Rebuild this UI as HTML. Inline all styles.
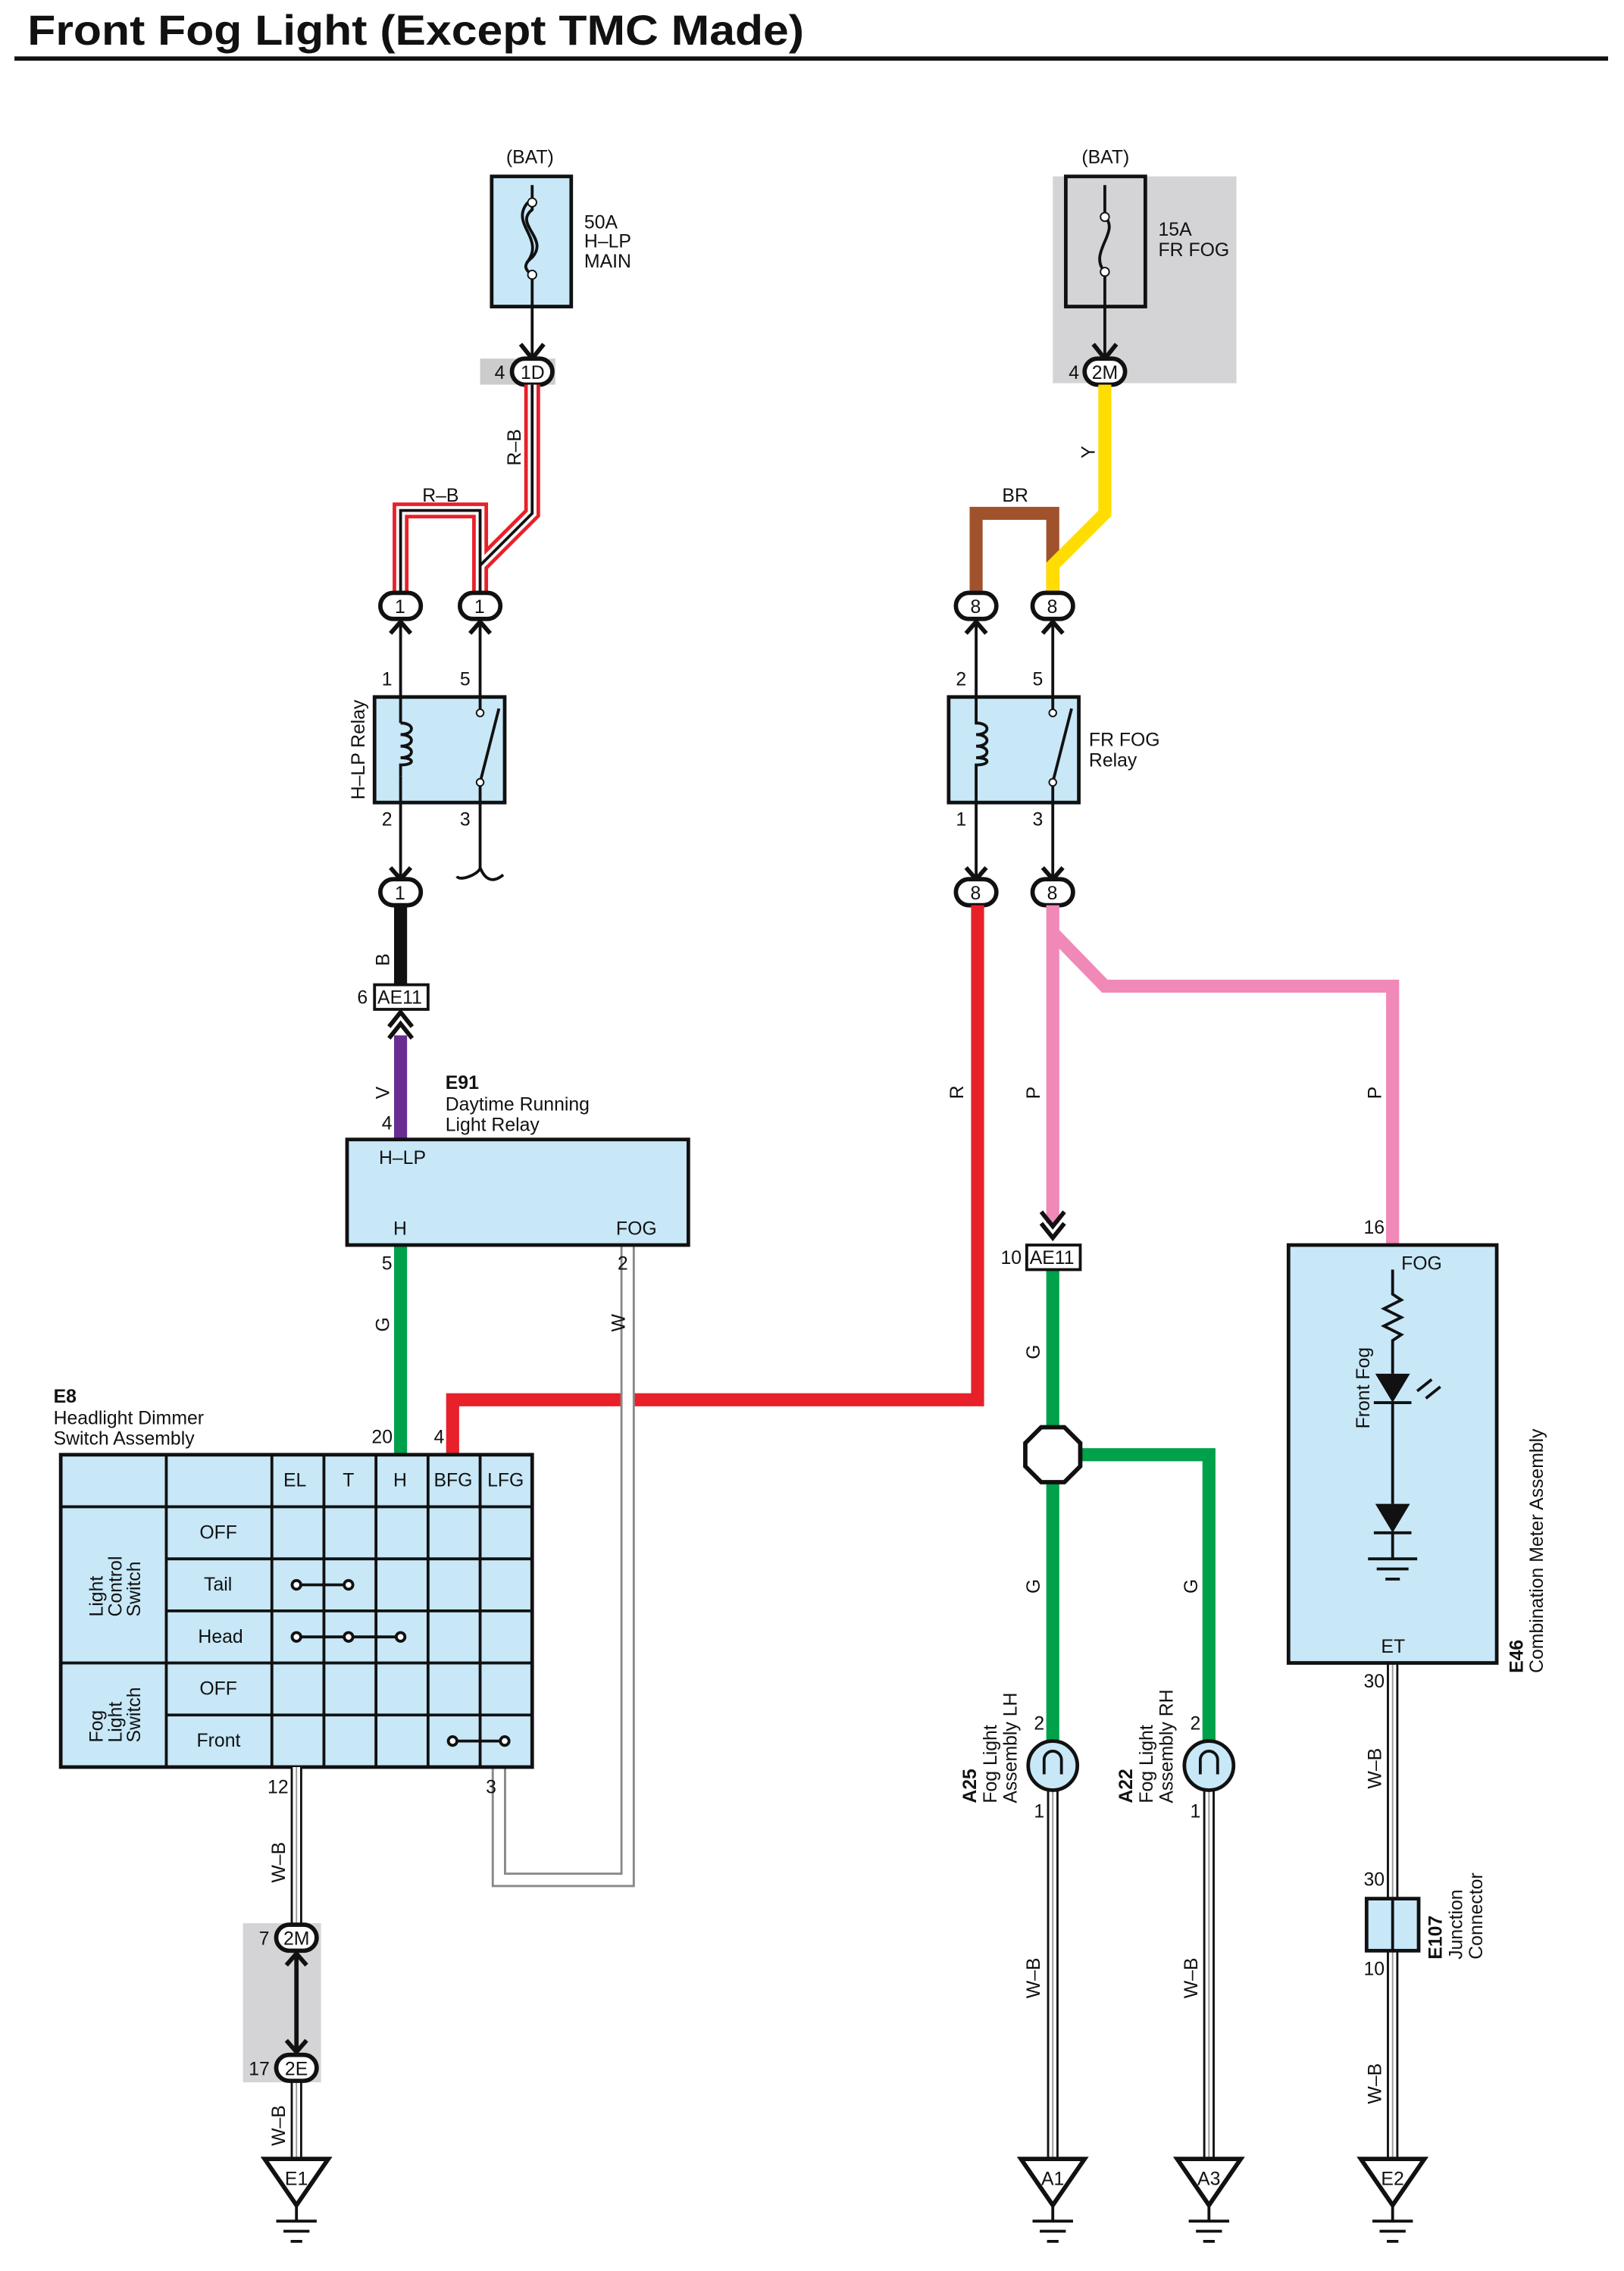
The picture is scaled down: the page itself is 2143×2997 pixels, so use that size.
<!DOCTYPE html>
<html><head><meta charset="utf-8"><style>
html,body{margin:0;padding:0;background:#fff}
svg{display:block}
text{font-family:"Liberation Sans",sans-serif;font-size:13px;fill:#111}
.b{font-weight:bold}
.box{fill:#c8e8f8;stroke:#111;stroke-width:2.5}
.ln{stroke:#111;stroke-width:2;fill:none}
.con{fill:#fff;stroke:#111;stroke-width:3}
</style></head><body>
<svg width="2143" height="2997" viewBox="0 0 1123 1570.5" preserveAspectRatio="none">
<text x="19" y="31" class="b" style="font-size:29px" textLength="537" lengthAdjust="spacingAndGlyphs">Front Fog Light (Except TMC Made)</text>
<rect x="10" y="39" width="1102" height="3" fill="#111"/>

<!-- Left fuse -->
<text x="350" y="113">(BAT)</text>
<rect class="box" x="340" y="122" width="55" height="90"/>
<path class="ln" d="M368 128 V145 C355 155,380 165,368 178 C358 186,368 188,368 192 V212" stroke-width="2"/>
<path class="ln" d="M365 140 C352 155,378 165,364 182"/>
<circle cx="368" cy="140" r="3" fill="#fff" stroke="#111"/><circle cx="368" cy="190" r="3" fill="#fff" stroke="#111"/>
<text x="404" y="158">50A</text><text x="404" y="171">H–LP</text><text x="404" y="185">MAIN</text>
<rect x="332" y="248" width="52" height="18" fill="#ccc"/>
<path class="ln" d="M368 212 V248"/><path d="M360 238 L368 248 L376 238" stroke="#111" stroke-width="3" fill="none"/>
<rect class="con" x="354" y="248" width="28" height="18" rx="9"/><text x="360" y="262">1D</text><text x="342" y="262">4</text>

<!-- Right fuse -->
<rect x="728" y="122" width="127" height="143" fill="#d4d4d6"/>
<text x="748" y="113">(BAT)</text>
<rect x="737" y="122" width="55" height="90" fill="none" stroke="#111" stroke-width="2.5"/>
<path class="ln" d="M764 128 V150 C775 160,752 175,764 188 V212"/>
<circle cx="764" cy="150" r="3" fill="#fff" stroke="#111"/><circle cx="764" cy="188" r="3" fill="#fff" stroke="#111"/>
<text x="801" y="163">15A</text><text x="801" y="177">FR FOG</text>
<path class="ln" d="M764 212 V248"/><path d="M756 238 L764 248 L772 238" stroke="#111" stroke-width="3" fill="none"/>
<rect class="con" x="750" y="248" width="28" height="18" rx="9"/><text x="755" y="262">2M</text><text x="739" y="262">4</text>

<!-- R-B wire -->
<g fill="none" stroke-linejoin="miter">
<path d="M277 410 V353 H332 V410 M368 266 V355 L332 391 V410" stroke="#e8202a" stroke-width="11"/>
<path d="M277 410 V353 H332 V410 M368 266 V355 L332 391 V410" stroke="#fff" stroke-width="6"/>
<path d="M277 410 V353 H332 V410 M368 266 V355 L332 391 V410" stroke="#111" stroke-width="2"/>
<path d="M675 410 V355 H728 V410" stroke="#a0522d" stroke-width="9"/>
<path d="M764 266 V355 L728 391 V410" stroke="#ffdd00" stroke-width="9"/>
</g>
<text x="292" y="347">R–B</text>
<text transform="translate(360,322) rotate(-90)">R–B</text>
<text x="693" y="347">BR</text>
<text transform="translate(757,317) rotate(-90)">Y</text>

<g>
<rect class="con" x="263" y="410" width="28" height="18" rx="9"/><text x="273" y="424">1</text>
<rect class="con" x="318" y="410" width="28" height="18" rx="9"/><text x="328" y="424">1</text>
<rect class="con" x="661" y="410" width="28" height="18" rx="9"/><text x="671" y="424">8</text>
<rect class="con" x="714" y="410" width="28" height="18" rx="9"/><text x="724" y="424">8</text>
</g>
<g class="ln">
<path d="M277 428 V482 M332 428 V482 M675 428 V482 M728 428 V482"/>
</g>
<g fill="none" stroke="#111" stroke-width="3">
<path d="M270 438 L277 430 L284 438 M325 438 L332 430 L339 438 M668 438 L675 430 L682 438 M721 438 L728 430 L735 438"/>
</g>

<!-- H-LP relay -->
<text x="264" y="474">1</text><text x="318" y="474">5</text>
<rect class="box" x="259" y="482" width="90" height="73"/>
<path class="ln" d="M277 482 V500 M277 537 V555"/>
<path class="ln" d="M277 500 c10 0,10 8,0 8 c10 0,10 8,0 8 c10 0,10 8,0 8 c10 0,10 5,0 5 V537" />
<path class="ln" d="M332 482 V493 M332 541 V555 M332 541 L345 490"/>
<circle cx="332" cy="493" r="2.5" fill="#fff" stroke="#111"/><circle cx="332" cy="541" r="2.5" fill="#fff" stroke="#111"/>
<text transform="translate(252,553) rotate(-90)">H–LP Relay</text>
<text x="264" y="571">2</text><text x="318" y="571">3</text>
<path class="ln" d="M277 555 V608 M332 555 V600 c0 4,-14 10,-16 6 M332 600 c4 10,10 10,16 5"/>
<path d="M270 600 L277 608 L284 600" stroke="#111" stroke-width="3" fill="none"/>
<rect class="con" x="263" y="608" width="28" height="18" rx="9"/><text x="273" y="622">1</text>

<!-- FR FOG relay -->
<text x="661" y="474">2</text><text x="714" y="474">5</text>
<rect class="box" x="656" y="482" width="90" height="73"/>
<path class="ln" d="M675 482 V500 c10 0,10 8,0 8 c10 0,10 8,0 8 c10 0,10 8,0 8 c10 0,10 5,0 5 V555"/>
<path class="ln" d="M728 482 V493 M728 541 V555 M728 541 L741 490"/>
<circle cx="728" cy="493" r="2.5" fill="#fff" stroke="#111"/><circle cx="728" cy="541" r="2.5" fill="#fff" stroke="#111"/>
<text x="753" y="516">FR FOG</text><text x="753" y="530">Relay</text>
<text x="661" y="571">1</text><text x="714" y="571">3</text>
<path class="ln" d="M675 555 V608 M728 555 V608"/>
<path d="M668 600 L675 608 L682 600 M721 600 L728 608 L735 600" stroke="#111" stroke-width="3" fill="none"/>
<rect class="con" x="661" y="608" width="28" height="18" rx="9"/><text x="671" y="622">8</text>
<rect class="con" x="714" y="608" width="28" height="18" rx="9"/><text x="724" y="622">8</text>

<g fill="none">
<path d="M277 626 V681" stroke="#111" stroke-width="9"/>
<path d="M277 716 V788" stroke="#6a2c91" stroke-width="9"/>
<path d="M277 861 V1006" stroke="#00a14b" stroke-width="9"/>
<path d="M313 1006 V968 H676 V626" stroke="#e8202a" stroke-width="9"/>
<path d="M728 626 V846 M728 645 L764 682 H963 V861" stroke="#f088b8" stroke-width="9"/>
<path d="M728 878 V1205 M728 1006 H836 V1205" stroke="#00a14b" stroke-width="9"/>
<path d="M434 861 V1300 H345 V1222" stroke="#888" stroke-width="10"/>
<path d="M434 861 V1300 H345 V1222" stroke="#fff" stroke-width="7"/>
</g>
<text transform="translate(269,668) rotate(-90)">B</text>
<text transform="translate(269,760) rotate(-90)">V</text>
<text transform="translate(269,921) rotate(-90)">G</text>
<text transform="translate(432,921) rotate(-90)">W</text>
<text transform="translate(666,760) rotate(-90)">R</text>
<text transform="translate(719,760) rotate(-90)">P</text>
<text transform="translate(955,760) rotate(-90)">P</text>
<text transform="translate(719,940) rotate(-90)">G</text>
<text transform="translate(719,1102) rotate(-90)">G</text>
<text transform="translate(828,1102) rotate(-90)">G</text>

<rect x="259" y="681" width="37" height="17" fill="#fff" stroke="#111" stroke-width="2"/><text x="261" y="694">AE11</text><text x="247" y="694">6</text>
<path d="M269 710 L277 700 L285 710 M269 718 L277 708 L285 718" stroke="#111" stroke-width="3" fill="none"/>
<text x="264" y="781">4</text>

<text x="308" y="753" class="b">E91</text><text x="308" y="768">Daytime Running</text><text x="308" y="782">Light Relay</text>
<rect class="box" x="240" y="788" width="236" height="73"/>
<text x="262" y="805">H–LP</text><text x="272" y="854">H</text><text x="426" y="854">FOG</text>
<text x="264" y="878">5</text><text x="427" y="878">2</text>

<text x="37" y="970" class="b">E8</text><text x="37" y="985">Headlight Dimmer</text><text x="37" y="999">Switch Assembly</text>
<text x="257" y="998">20</text><text x="300" y="998">4</text>
<rect class="box" x="42" y="1006" width="326" height="216"/>
<g stroke="#111" stroke-width="2" fill="none">
<path d="M115 1006 V1222 M188 1006 V1222 M224 1006 V1222 M260 1006 V1222 M296 1006 V1222 M332 1006 V1222"/>
<path d="M42 1042 H368 M115 1078 H368 M115 1114 H368 M42 1150 H368 M115 1186 H368"/>
</g>
<text x="196" y="1028">EL</text><text x="237" y="1028">T</text><text x="272" y="1028">H</text><text x="300" y="1028">BFG</text><text x="337" y="1028">LFG</text>
<text x="138" y="1064">OFF</text><text x="141" y="1100">Tail</text><text x="137" y="1136">Head</text><text x="138" y="1172">OFF</text><text x="136" y="1208">Front</text>
<text transform="translate(71,1118) rotate(-90)">Light</text><text transform="translate(84,1118) rotate(-90)">Control</text><text transform="translate(97,1118) rotate(-90)">Switch</text>
<text transform="translate(71,1205) rotate(-90)">Fog</text><text transform="translate(84,1205) rotate(-90)">Light</text><text transform="translate(97,1205) rotate(-90)">Switch</text>
<g stroke="#111" stroke-width="2" fill="#fff">
<path d="M205 1096 H241 M205 1132 H277 M313 1204 H349"/>
<circle cx="205" cy="1096" r="3"/><circle cx="241" cy="1096" r="3"/>
<circle cx="205" cy="1132" r="3"/><circle cx="241" cy="1132" r="3"/><circle cx="277" cy="1132" r="3"/>
<circle cx="313" cy="1204" r="3"/><circle cx="349" cy="1204" r="3"/>
</g>
<text x="185" y="1240">12</text><text x="336" y="1240">3</text>

<g fill="none">
<path d="M205 1222 V1493 M728 1238 V1493 M836 1238 V1493 M963 1150 V1493" stroke="#111" stroke-width="8"/>
<path d="M205 1222 V1493 M728 1238 V1493 M836 1238 V1493 M963 1150 V1493" stroke="#fff" stroke-width="5"/>
<path d="M205 1222 V1493 M728 1238 V1493 M836 1238 V1493 M963 1150 V1493" stroke="#999" stroke-width="1"/>
</g>
<text transform="translate(197,1302) rotate(-90)">W–B</text>
<text transform="translate(197,1484) rotate(-90)">W–B</text>
<text transform="translate(719,1382) rotate(-90)">W–B</text>
<text transform="translate(828,1382) rotate(-90)">W–B</text>
<text transform="translate(955,1237) rotate(-90)">W–B</text>
<text transform="translate(955,1455) rotate(-90)">W–B</text>

<rect x="168" y="1330" width="54" height="110" fill="#d4d4d6"/>
<path d="M205 1349 V1421" stroke="#111" stroke-width="3"/>
<path d="M198 1359 L205 1351 L212 1359 M198 1411 L205 1419 L212 1411" stroke="#111" stroke-width="3" fill="none"/>
<rect class="con" x="191" y="1331" width="28" height="18" rx="9"/><text x="196" y="1345">2M</text><text x="179" y="1345">7</text>
<rect class="con" x="191" y="1421" width="28" height="18" rx="9"/><text x="197" y="1435">2E</text><text x="172" y="1435">17</text>

<path d="M720 838 L728 848 L736 838 M720 846 L728 856 L736 846" stroke="#111" stroke-width="3" fill="none"/>
<rect x="710" y="861" width="37" height="17" fill="#fff" stroke="#111" stroke-width="2"/><text x="712" y="874">AE11</text><text x="692" y="874">10</text>

<polygon points="720,987 736,987 747,998 747,1014 736,1025 720,1025 709,1014 709,998" fill="#fff" stroke="#111" stroke-width="3"/>

<g>
<circle cx="728" cy="1221" r="17" class="box" stroke-width="3"/>
<circle cx="836" cy="1221" r="17" class="box" stroke-width="3"/>
<path class="ln" d="M722 1227 V1217 a6 6 0 0 1 12 0 V1227 M830 1227 V1217 a6 6 0 0 1 12 0 V1227"/>
</g>
<text x="715" y="1196">2</text><text x="823" y="1196">2</text>
<text x="715" y="1257">1</text><text x="823" y="1257">1</text>
<g>
<text transform="translate(675,1247) rotate(-90)" class="b">A25</text>
<text transform="translate(689,1247) rotate(-90)">Fog Light</text>
<text transform="translate(703,1247) rotate(-90)">Assembly LH</text>
<text transform="translate(783,1247) rotate(-90)" class="b">A22</text>
<text transform="translate(797,1247) rotate(-90)">Fog Light</text>
<text transform="translate(811,1247) rotate(-90)">Assembly RH</text>
</g>

<text x="943" y="853">16</text>
<rect class="box" x="891" y="861" width="144" height="289"/>
<text x="969" y="878">FOG</text><text x="955" y="1143">ET</text>
<path class="ln" d="M963 878 V895 l6 4 l-12 6 l12 6 l-12 6 l12 6 l-6 4 V950 M963 970 V1040 M963 1060 V1078"/>
<polygon points="951,950 975,950 963,970" fill="#111"/><path class="ln" d="M950 970 H976"/>
<polygon points="951,1040 975,1040 963,1060" fill="#111"/><path class="ln" d="M950 1060 H976"/>
<path class="ln" d="M946 1078 H980 M952 1085 H974 M958 1092 H968"/>
<path class="ln" d="M980 962 l10 -8 M986 967 l10 -8"/>
<text transform="translate(947,988) rotate(-90)">Front Fog</text>
<text transform="translate(1053,1157) rotate(-90)" class="b">E46</text>
<text transform="translate(1067,1157) rotate(-90)">Combination Meter Assembly</text>
<text x="943" y="1167">30</text>
<text x="943" y="1304">30</text>
<rect class="box" x="945" y="1313" width="36" height="36"/><path class="ln" d="M963 1313 V1349"/>
<text x="943" y="1366">10</text>
<text transform="translate(997,1355) rotate(-90)" class="b">E107</text>
<text transform="translate(1011,1355) rotate(-90)">Junction</text>
<text transform="translate(1025,1355) rotate(-90)">Connector</text>

<g id="gr">
<polygon points="183,1493 227,1493 205,1525" fill="#fff" stroke="#111" stroke-width="3"/>
<path class="ln" d="M205 1525 V1536 M191 1536 H219 M196 1543 H214 M201 1550 H209"/>
</g>
<use href="#gr" x="523"/><use href="#gr" x="631"/><use href="#gr" x="758"/>
<text x="197" y="1511">E1</text><text x="720" y="1511">A1</text><text x="828" y="1511">A3</text><text x="955" y="1511">E2</text>
</svg>
</body></html>
